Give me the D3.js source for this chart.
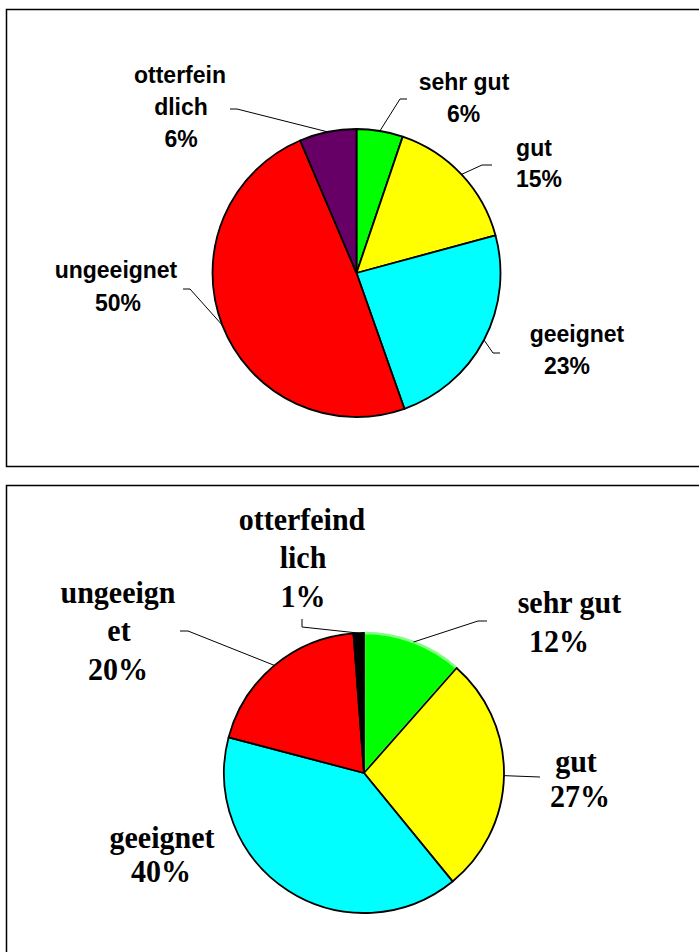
<!DOCTYPE html>
<html>
<head>
<meta charset="utf-8">
<script src="https://cdn.jsdelivr.net/npm/d3@7"></script>
<style>
  body { margin: 0; background: #fff; }
  svg { display: block; }
</style>
</head>
<body>
<script>
// categories, shared by both pies (clockwise from 12 o'clock)
const categories = ["sehr gut", "gut", "geeignet", "ungeeignet", "otterfeindlich"];

const topValues = [5.2, 15.6, 23.8, 49.0, 6.4];
const topLabels = [["sehr gut", "6%"], ["gut", "15%"], ["geeignet", "23%"], ["ungeeignet", "50%"], ["otterfein", "dlich", "6%"]];
const topColors = ["#00ff00", "#ffff00", "#00ffff", "#ff0000", "#660066"];

// bottom pie
const bottomValues = [11.5, 27.6, 40.0, 19.7, 1.2];
const bottomLabels = [["sehr gut", "12%"], ["gut", "27%"], ["geeignet", "40%"], ["ungeeign", "et", "20%"], ["otterfeind", "lich", "1%"]];
const bottomColors = ["#00ff00", "#ffff00", "#00ffff", "#ff0000", "#000000"];

const width = 699, height = 952;

const svg = d3.select("body").append("svg")
    .attr("width", width)
    .attr("height", height)
    .attr("viewBox", [0, 0, width, height]);

// panel frames (right side runs off the page)
svg.append("rect")
    .attr("x", 6.5).attr("y", 9.5)
    .attr("width", 760).attr("height", 457)
    .attr("fill", "none").attr("stroke", "#000").attr("stroke-width", 1.5);
svg.append("rect")
    .attr("x", 6.5).attr("y", 485.5)
    .attr("width", 760).attr("height", 520)
    .attr("fill", "none").attr("stroke", "#000").attr("stroke-width", 1.5);

function drawPie(cfg) {
    const { cx, cy, r, values, labels, colors, font, size, stretch, layout, greenEdge } = cfg;

    const pie = d3.pie().sort(null).value(d => d)(values);
    const arc = d3.arc().innerRadius(0).outerRadius(r);

    const g = svg.append("g").attr("transform", `translate(${cx},${cy})`);

    g.selectAll("path")
        .data(pie)
        .join("path")
        .attr("d", arc)
        .attr("fill", (d, i) => colors[i])
        .attr("stroke", (d, i) => (greenEdge && i === 0) ? "#80ff80" : "#000")
        .attr("stroke-width", (d, i) => (greenEdge && i === 0) ? 2.5 : 1.8)
        .attr("stroke-linejoin", "round");

    // leader lines start on the rim at the middle of each slice
    pie.forEach((d, i) => {
        const L = layout[i];
        if (!L.leader) return;
        const a = (d.startAngle + d.endAngle) / 2;
        const pts = [[cx + r * Math.sin(a), cy - r * Math.cos(a)], ...L.leader];
        svg.append("path")
            .attr("d", d3.line()(pts))
            .attr("fill", "none")
            .attr("stroke", "#000")
            .attr("stroke-width", 1);
    });

    // labels, one tspan per line; glyphs are a bit taller than normal
    labels.forEach((lines, i) => {
        const L = layout[i];
        const t = svg.append("text")
            .attr("transform", `scale(1,${stretch})`)
            .attr("font-family", font)
            .attr("font-weight", "bold")
            .attr("font-size", size)
            .attr("fill", "#000")
            .attr("text-anchor", "middle");
        lines.forEach((s, j) => {
            t.append("tspan")
                .attr("x", L.xs[j])
                .attr("y", (L.y + j * L.dy) / stretch)
                .text(s);
        });
    });
}

drawPie({
    cx: 356.5, cy: 273, r: 144,
    values: topValues, labels: topLabels, colors: topColors,
    font: "'Liberation Sans', Arial, sans-serif", size: 23, stretch: 1.03,
    layout: [
        { xs: [464, 463.5], y: 90, dy: 32, leader: [[400, 99], [407, 99]] },
        { xs: [534, 539], y: 156, dy: 31.5, leader: [[482, 165], [492, 165]] },
        { xs: [577, 567], y: 342, dy: 32, leader: [[493, 353], [500, 353]] },
        { xs: [116, 118], y: 278, dy: 33, leader: [[190, 289], [183, 289]] },
        { xs: [180, 181, 181], y: 83, dy: 32, leader: [[237, 109], [230, 109]] }
    ]
});

drawPie({
    cx: 364, cy: 773, r: 140,
    values: bottomValues, labels: bottomLabels, colors: bottomColors,
    font: "'Liberation Serif', 'Times New Roman', serif", size: 30, stretch: 1.08,
    greenEdge: true,
    layout: [
        { xs: [569.5, 559], y: 613, dy: 39, leader: [[478, 621], [487, 621]] },
        { xs: [576, 580], y: 772, dy: 35, leader: [[540, 777]] },
        { xs: [162, 161], y: 848, dy: 34, leader: null },
        { xs: [118, 119, 118], y: 603, dy: 38.5, leader: [[188, 631], [180, 631]] },
        { xs: [302, 303, 303], y: 530, dy: 38.5, leader: [[302, 627], [302, 619]] }
    ]
});
</script>
</body>
</html>
